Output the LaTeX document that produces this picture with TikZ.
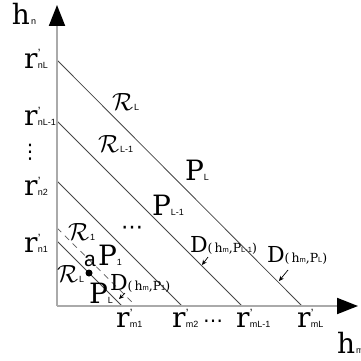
\documentclass[tikz,border=0pt]{standalone}
\usepackage{fontspec}
\setmainfont{DejaVu Serif}
\setsansfont{Liberation Sans}
\newfontfamily\symfont{DejaVu Sans}
\usetikzlibrary{arrows.meta}
\newcommand\bT[1]{{\fontsize{28}{28}\selectfont #1}}
\newcommand\sT[1]{{\fontsize{9}{9}\selectfont\sffamily #1}}
\newcommand\pT[1]{{\fontsize{12}{12}\selectfont\sffamily #1}}
\newcommand\tT[1]{{\fontsize{7.5}{8}\selectfont\sffamily #1}}
\newcommand\mT[1]{{\fontsize{12.5}{12.5}\selectfont #1}}
\newcommand\rlab[1]{\bT{r}\kern0.5pt\rlap{\raisebox{10pt}{\pT{'}}}\sT{#1}}
\newcommand\cRlab[1]{{\fontsize{26}{26}\selectfont$\mathcal{R}$}\kern1pt\sT{#1}}
\newcommand\plab[1]{\bT{P}\sT{#1}}
\newcommand\dlab[1]{{\fontsize{22}{22}\selectfont D}\mT{(\kern2pt h}\tT{m}\mT{,P}\tT{#1}\mT{)}}
\tikzset{
  lab/.style={anchor=base west, inner sep=0pt, outer sep=0pt},
  axis/.style={draw={rgb,255:red,170;green,170;blue,170}, line width=2pt,
    -{Triangle[length=21pt,width=16pt,color=black]}},
  diag/.style={draw={rgb,255:red,70;green,70;blue,70}, line width=0.8pt},
  dashln/.style={draw={rgb,255:red,90;green,90;blue,90}, line width=0.7pt, dash pattern=on 6pt off 5pt},
  ptr/.style={draw=black, line width=0.7pt, -{Stealth[length=5pt,width=4.5pt]}},
}
\begin{document}
\begin{tikzpicture}[x=1pt,y=-1pt]
\useasboundingbox (0,0) rectangle (361,361);
% coordinates
\coordinate (O) at (57,306);
\coordinate (ytip) at (57,5);
\coordinate (xtip) at (358,306);
\coordinate (nL) at (57,60);   \coordinate (mL) at (302,306);
\coordinate (nL1) at (57,121); \coordinate (mL1) at (242,306);
\coordinate (n2) at (57,181);  \coordinate (m2) at (182,306);
\coordinate (n1) at (57,241);  \coordinate (m1) at (122,306);
\coordinate (da) at (57,228);  \coordinate (db) at (136,306);
% diagonals
\draw[diag] (nL) -- (mL);
\draw[diag] (nL1) -- (mL1);
\draw[diag] (n2) -- (m2);
\draw[diag] (n1) -- (m1);
\draw[dashln] (da) -- (db);
% axes
\draw[axis] (O) -- (ytip);
\draw[axis] (O) -- (xtip);
% dot
\fill (89,273) circle (3.5pt) coordinate (adot);
% axis labels
\node[lab] (hn) at (12,25) {\bT{h}\kern1pt\sT{n}};
\node[lab] (hm) at (337,353) {\bT{h}\kern1pt\sT{m}};
% vertical ticks
\node[lab] (rnL) at (24,68) {\rlab{nL}};
\node[lab] (rnL1) at (24,125) {\rlab{nL-1}};
\node[anchor=base, inner sep=0pt] (vd) at (30,158) {\fontsize{20}{20}\selectfont\symfont ⋮};
\node[lab] (rn2) at (24,195) {\rlab{n2}};
\node[lab] (rn1) at (24,252) {\rlab{n1}};
% horizontal ticks
\node[lab] (rm1) at (116,327) {\rlab{m1}};
\node[lab] (rm2) at (172,327) {\rlab{m2}};
\node[lab] (hd) at (203,327) {\fontsize{20}{20}\selectfont\symfont ⋯};
\node[lab] (rmL1) at (236,327) {\rlab{mL-1}};
\node[lab] (rmL) at (297,327) {\rlab{mL}};
% regions
\node[lab] (RL) at (112,110) {\cRlab{L}};
\node[lab] (RL1) at (98,152) {\cRlab{L-1}};
\node[lab] (R1) at (68,240) {\cRlab{1}};
\node[lab] (RLb) at (57,282) {\cRlab{L}};
\node[lab] (dots) at (121,234) {\fontsize{22}{22}\selectfont\symfont ⋯};
% P labels
\node[lab] (PL) at (185,180) {\plab{L}};
\node[lab] (PL1) at (152,215) {\plab{L-1}};
\node[lab] (P1) at (98,265) {\plab{1}};
\node[lab] (PLb) at (89,303) {\plab{L}};
\node[lab] (a) at (84,266) {{\fontsize{21}{21}\selectfont\sffamily a}};
% D labels
\node[lab] (D1) at (110,290) {\dlab{1}};
\node[lab] (DL1) at (190,252) {\dlab{L-1}};
\node[lab] (DL) at (267,262) {\dlab{L}};
% pointers
\coordinate (s1) at (125,293); \coordinate (e1) at (119,299);
\coordinate (s2) at (208,257); \coordinate (e2) at (202,265);
\coordinate (s3) at (288,270); \coordinate (e3) at (279,281);
\draw[ptr] (s1) -- (e1);
\draw[ptr] (s2) -- (e2);
\draw[ptr] (s3) -- (e3);
\end{tikzpicture}
\end{document}
